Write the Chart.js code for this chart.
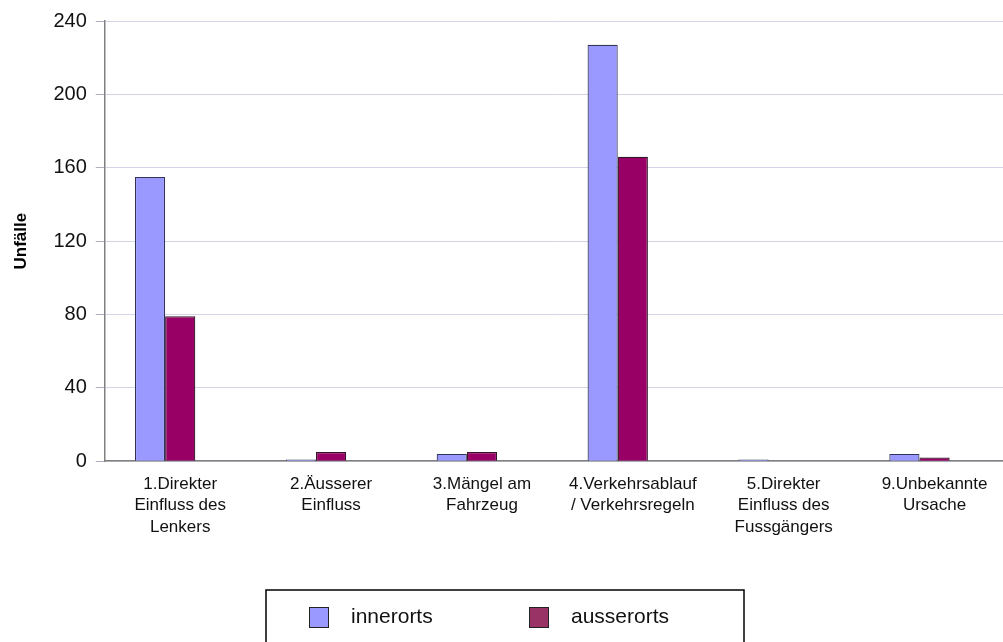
<!DOCTYPE html>
<html>
<head>
<meta charset="utf-8">
<script src="https://cdn.jsdelivr.net/npm/chart.js@4.4.1/dist/chart.umd.min.js"></script>
<style>
    html, body { margin: 0; padding: 0; background: #fff; overflow: hidden; }
    #contenedor { width: 1010px; height: 642px; }
</style>
</head>
<body>
<div id="contenedor"><canvas id="grafico"></canvas></div>
<script>
// Categorías del eje X (cada una en varias líneas)
const CATEGORIAS = [
    ['1.Direkter', 'Einfluss des', 'Lenkers'],
    ['2.Äusserer', 'Einfluss'],
    ['3.Mängel am', 'Fahrzeug'],
    ['4.Verkehrsablauf', '/ Verkehrsregeln'],
    ['5.Direkter', 'Einfluss des', 'Fussgängers'],
    ['9.Unbekannte', 'Ursache']
];

// Valores de cada serie
const INNERORTS = [155, 1, 4, 227, 1, 4];
const AUSSERORTS = [79, 5, 5, 166, 0, 2];
// Serie vacía que ocupa el tercer lugar del grupo (como en el original)
const VACIO = [null, null, null, null, null, null];

// Marcas del eje Y
const Y_TICKS = [0, 40, 80, 120, 160, 200, 240];

const FUENTE = 'Arial, "Liberation Sans", sans-serif';

// Plugin para dibujar la leyenda con su recuadro
const leyendaRecuadro = {
    id: 'leyendaRecuadro',
    afterDraw(chart) {
        const ctx = chart.ctx;
        const centro = chart.width / 2;
        const ancho = 478;
        const izquierda = centro - ancho / 2;
        const arriba = chart.height - 52;

        ctx.save();
        ctx.strokeStyle = '#000';
        ctx.lineWidth = 1.5;
        ctx.strokeRect(izquierda, arriba, ancho, 70);

        const items = chart.data.datasets.filter(ds => ds.label);
        ctx.font = '21px ' + FUENTE;
        ctx.textBaseline = 'middle';
        items.forEach((ds, i) => {
            const x = izquierda + 43 + i * 220;
            const y = arriba + 27;
            ctx.fillStyle = ds.legendColor;
            ctx.fillRect(x, y - 10, 20, 21);
            ctx.strokeStyle = '#222';
            ctx.lineWidth = 1;
            ctx.strokeRect(x + 0.5, y - 9.5, 19, 20);
            ctx.fillStyle = '#111';
            ctx.fillText(ds.label, x + 42, y);
        });
        ctx.restore();
    }
};

new Chart(document.getElementById('grafico'), {
    type: 'bar',
    data: {
        labels: CATEGORIAS,
        datasets: [
            {
                label: 'innerorts',
                data: INNERORTS,
                backgroundColor: '#9999ff',
                borderColor: '#33335a',
                legendColor: '#9999ff',
                borderWidth: 1.2
            },
            {
                label: 'ausserorts',
                data: AUSSERORTS,
                backgroundColor: '#990066',
                borderColor: '#331428',
                legendColor: '#993366',
                borderWidth: 1.2
            },
            {
                label: '',
                data: VACIO,
                backgroundColor: 'transparent'
            }
        ]
    },
    options: {
        responsive: true,
        maintainAspectRatio: false,
        animation: false,
        categoryPercentage: 0.6,
        barPercentage: 1,
        layout: {
            padding: { top: 8, left: 0, right: 0, bottom: 92 }
        },
        plugins: {
            legend: { display: false },
            tooltip: { enabled: false }
        },
        scales: {
            x: {
                grid: { display: false, drawTicks: false },
                border: { display: true, color: '#808080', width: 1.5 },
                ticks: {
                    color: '#111',
                    padding: 12,
                    maxRotation: 0,
                    autoSkip: false,
                    font: { family: FUENTE, size: 17, lineHeight: 1.27 }
                }
            },
            y: {
                min: 0,
                max: 240,
                afterBuildTicks: (scale) => {
                    scale.ticks = Y_TICKS.map(v => ({ value: v }));
                },
                grid: {
                    color: '#d4d4e6',
                    lineWidth: 1,
                    tickLength: 9,
                    tickColor: '#b0b0c0'
                },
                border: { display: true, color: '#808080', width: 1.5 },
                ticks: {
                    color: '#111',
                    padding: 9,
                    font: { family: FUENTE, size: 20 }
                },
                title: {
                    display: true,
                    text: 'Unfälle',
                    color: '#000',
                    padding: { top: 11, bottom: 13 },
                    font: { family: FUENTE, size: 17, weight: 'bold' }
                }
            }
        }
    },
    plugins: [leyendaRecuadro]
});
</script>
</body>
</html>
